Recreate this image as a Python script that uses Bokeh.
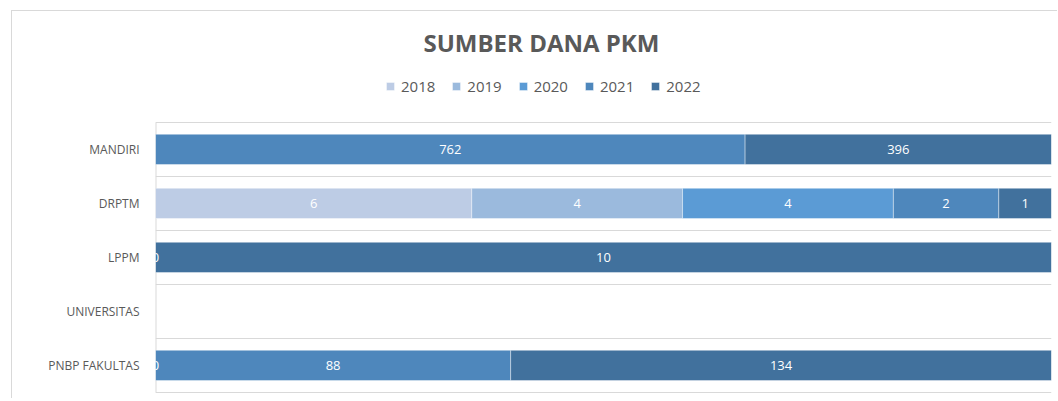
from bokeh.plotting import figure
from bokeh.models import ColumnDataSource, Range1d, FixedTicker, Legend, LegendItem
from bokeh.core.properties import value
from bokeh.embed import file_html
from bokeh.resources import INLINE

categories = ["MANDIRI", "DRPTM", "LPPM", "UNIVERSITAS", "PNBP FAKULTAS"]
years = ["2018", "2019", "2020", "2021", "2022"]
# None = empty cell (no bar, no label)
v2018 = [None, 6, None, None, None]
v2019 = [None, 4, None, None, None]
v2020 = [None, 4, None, None, 0]
v2021 = [762, 2, 0, None, 88]
v2022 = [396, 1, 10, None, 134]
colors = ["#BDCCE5", "#9BBADD", "#5B9BD5", "#4E87BC", "#41719D"]

series = [v2018, v2019, v2020, v2021, v2022]
n = len(categories)
ypos = [n - 1 - i for i in range(n)]

FONT = "Open Sans"
GREY = "#595959"
GRID = "#d9d9d9"

# extra room at the top of the frame for the legend (in category units)
top_extra = 1.035

p = figure(width=1046, height=388, output_backend="svg", toolbar_location=None,
           x_range=Range1d(0, 1), y_range=Range1d(-0.52, n - 0.5 + top_extra),
           min_border_left=143, min_border_right=7, min_border_bottom=6, min_border_top=55,
           title="SUMBER DANA PKM",
           styles={"margin-left": "11px", "margin-top": "10px",
                   "border-left": "1px solid #d9d9d9", "border-top": "1px solid #d9d9d9"})

totals = [sum((s[i] or 0) for s in series) for i in range(n)]

# vertical category-axis line
p.segment(x0=[0], y0=[-0.5], x1=[0], y1=[n - 0.5], line_color=GRID, line_width=2)

left = [0.0] * n
legend_items = []
lab_x, lab_y, lab_t = [], [], []
for k, s in enumerate(series):
    l, r, y = [], [], []
    for i in range(n):
        val = s[i]
        if val is None or totals[i] == 0:
            continue
        frac = val / totals[i]
        l.append(left[i]); r.append(left[i] + frac); y.append(ypos[i])
        lab_x.append(left[i] + frac / 2); lab_y.append(ypos[i]); lab_t.append(str(val))
        left[i] += frac
    src = ColumnDataSource(dict(left=l, right=r, y=y))
    rend = p.hbar(y="y", left="left", right="right", height=0.56, source=src,
                  fill_color=colors[k], line_color="white", line_alpha=0.5, line_width=0.8)
    legend_items.append(LegendItem(label=years[k], renderers=[rend]))

tsrc = ColumnDataSource(dict(x=lab_x, y=lab_y, t=lab_t))
p.text(x="x", y="y", text="t", source=tsrc, text_color="white",
       text_font=value(FONT), text_font_size="13px",
       text_align="center", text_baseline="middle")

legend = Legend(items=legend_items, orientation="horizontal", location=(230, 297),
                glyph_width=10, glyph_height=10, label_standoff=6, spacing=16,
                label_text_font=FONT, label_text_font_size="15px", label_text_color=GREY,
                label_height=20, border_line_color=None, background_fill_alpha=0,
                margin=0, padding=0)
p.add_layout(legend)

p.title.align = "left"
p.title.offset = 268
p.title.text_font = FONT
p.title.text_font_size = "24px"
p.title.text_font_style = "bold"
p.title.text_color = GREY
p.title.standoff = 16

p.xaxis.visible = False
p.yaxis.ticker = FixedTicker(ticks=ypos)
p.yaxis.major_label_overrides = {ypos[i]: categories[i] for i in range(n)}
p.yaxis.major_label_text_font = FONT
p.yaxis.major_label_text_font_size = "12px"
p.yaxis.major_label_text_color = GREY
p.yaxis.major_tick_line_color = None
p.yaxis.minor_tick_line_color = None
p.yaxis.axis_line_color = None
p.yaxis.major_label_standoff = 10

p.xgrid.visible = False
p.ygrid.ticker = FixedTicker(ticks=[y + 0.5 for y in range(-1, n)])
p.ygrid.grid_line_color = GRID
p.ygrid.grid_line_width = 1
p.outline_line_color = None

open("out.html", "w").write(file_html(p, INLINE))
